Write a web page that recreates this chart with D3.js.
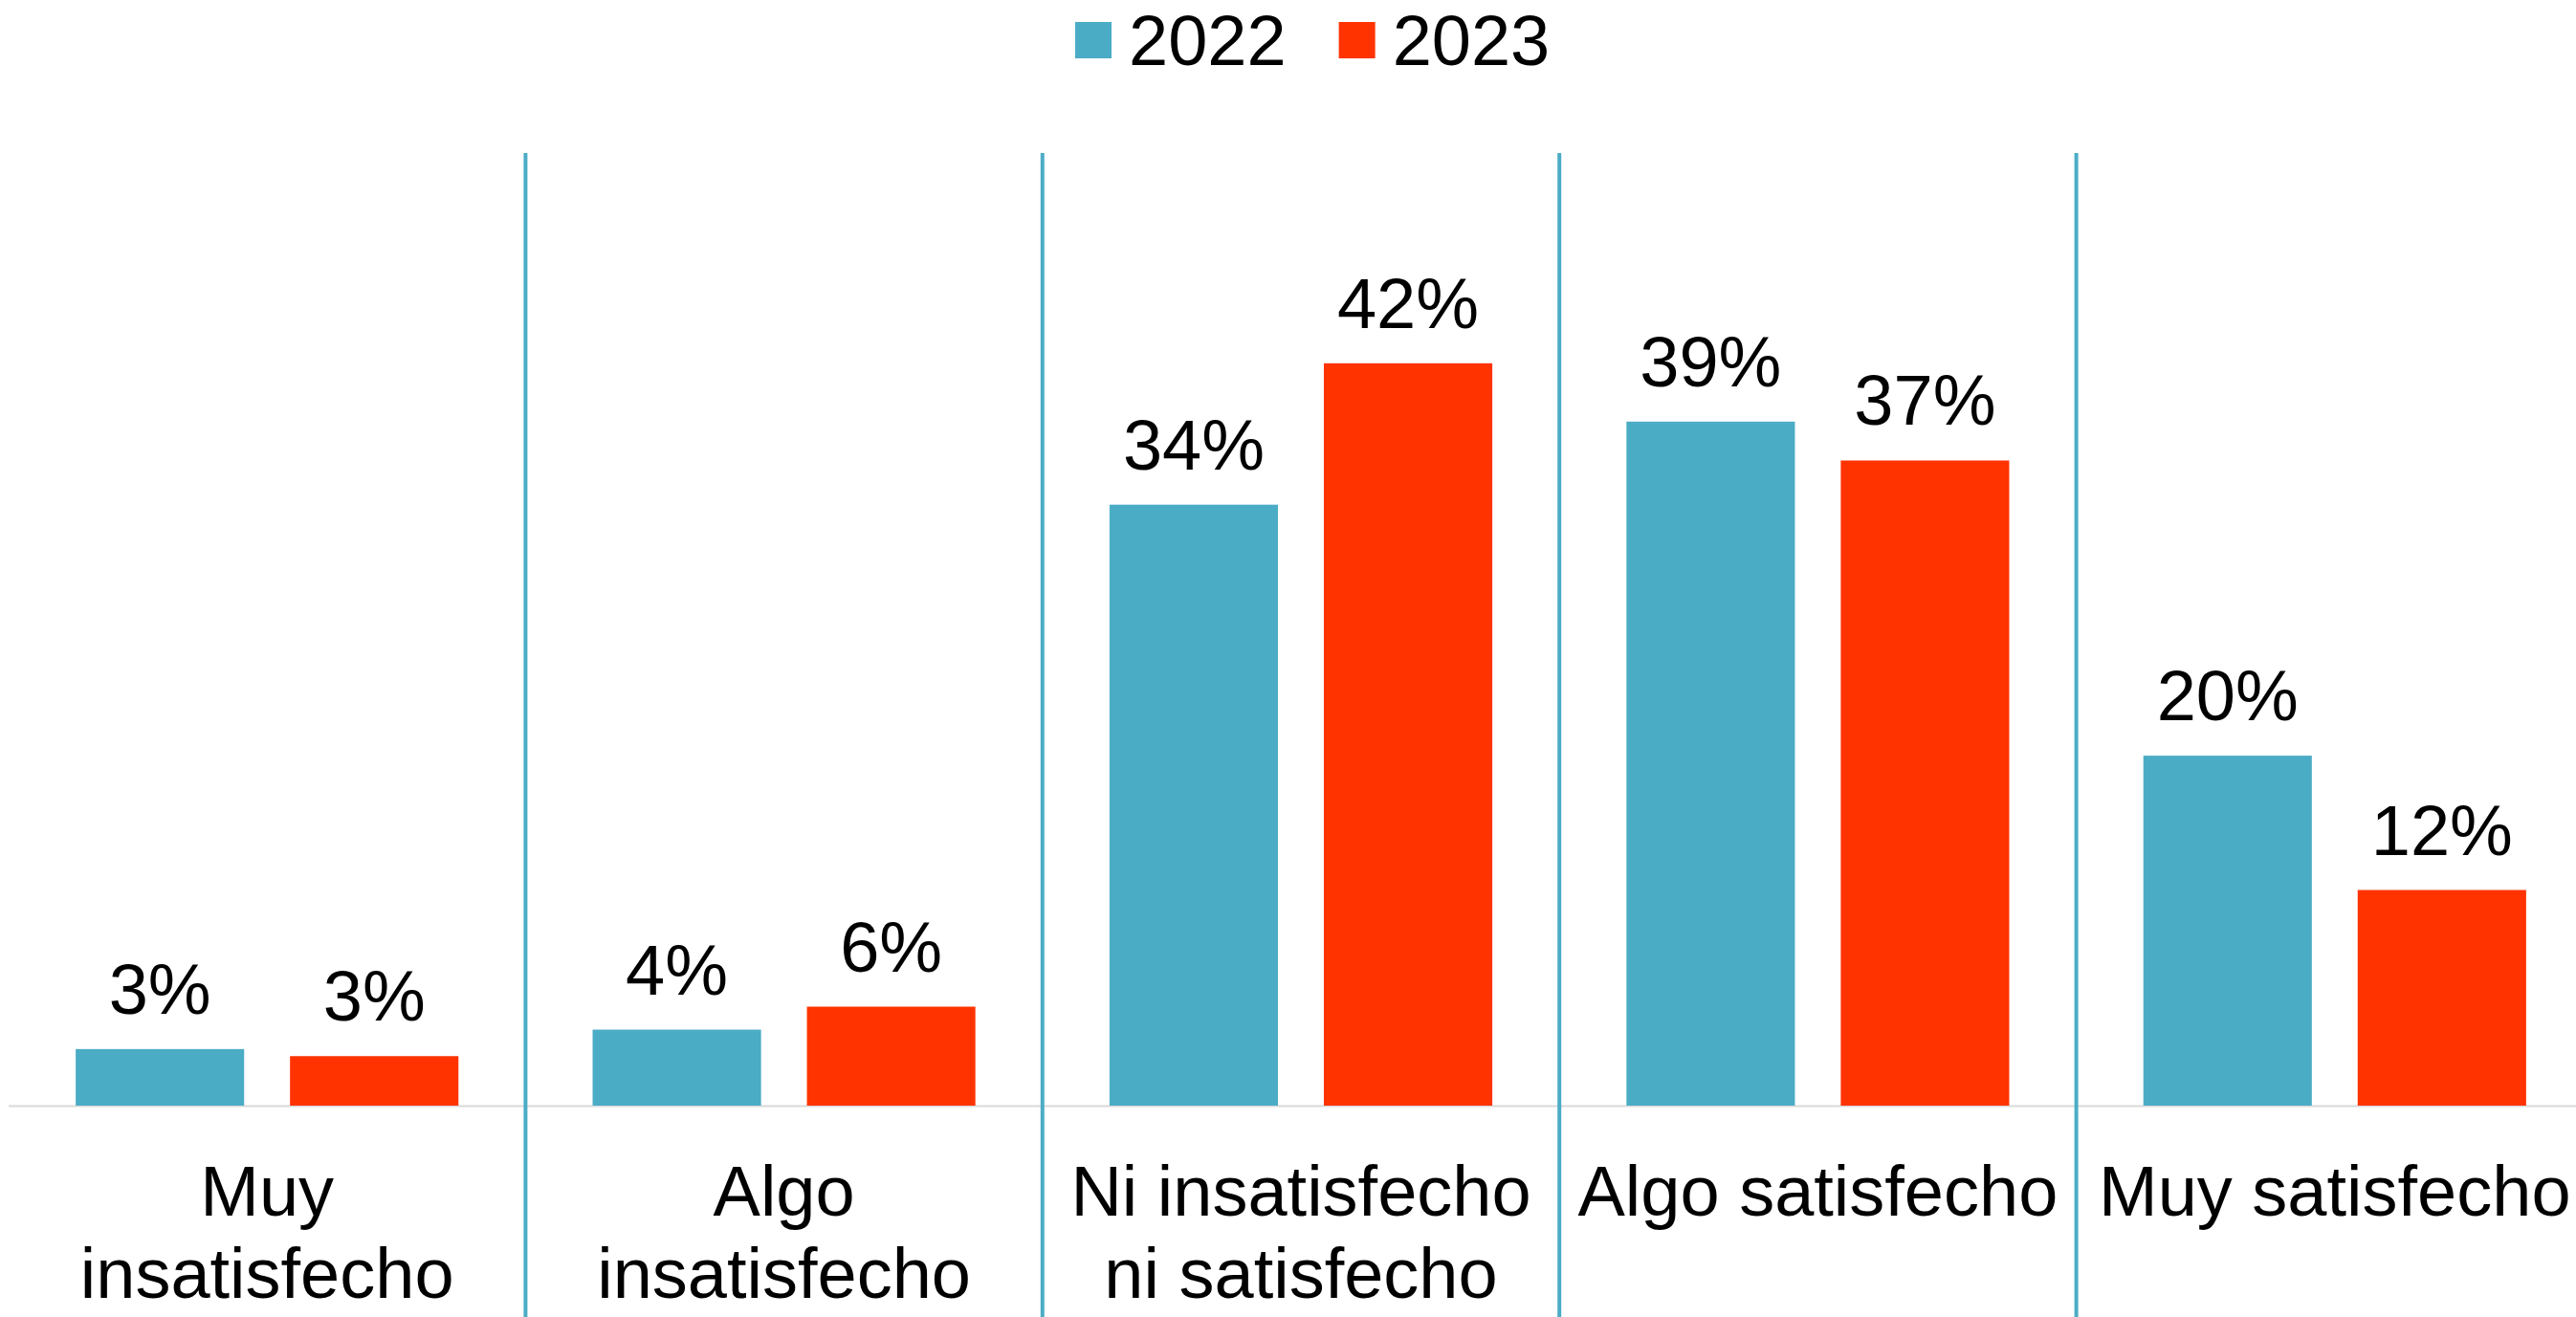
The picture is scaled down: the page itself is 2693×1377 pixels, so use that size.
<!DOCTYPE html>
<html>
<head>
<meta charset="utf-8">
<script src="https://cdn.jsdelivr.net/npm/d3@7"></script>
<style>
  html, body { margin: 0; padding: 0; background: #fff; }
  svg { display: block; font-family: "Liberation Sans", Arial, sans-serif; }
</style>
</head>
<body>
<div id="chart"></div>
<script>
// ── Data ─────────────────────────────────────────────────────────
const categories = [
  'Muy insatisfecho',
  'Algo insatisfecho',
  'Ni insatisfecho ni satisfecho',
  'Algo satisfecho',
  'Muy satisfecho',
];
const seriesNames = ['2022', '2023'];
const values2022 = [3.2, 4.3, 34.0, 38.7, 19.8];
const values2023 = [2.8, 5.6, 42.0, 36.5, 12.2];
const seriesColors = ['#4BACC6', '#FF3300'];

// ── Layout ───────────────────────────────────────────────────────
const W = 2693, H = 1377;
const baseY = 1156;
const fontSize = 74;

const svg = d3.select('#chart')
  .append('svg')
  .attr('width', W)
  .attr('height', H);

const x0 = d3.scaleBand()
  .domain(categories)
  .range([9, 2711])
  .paddingInner(0)
  .paddingOuter(0);

const x1 = d3.scaleBand()
  .domain(seriesNames)
  .range([0, x0.bandwidth()])
  .paddingInner(0.214)
  .paddingOuter(0.313);

const y = d3.scaleLinear()
  .domain([0, 50])
  .range([baseY, baseY - 50 * 18.48]);

const color = d3.scaleOrdinal().domain(seriesNames).range(seriesColors);

const rows = categories.map((c, i) => ({
  cat: c,
  vals: [
    { s: '2022', v: values2022[i] },
    { s: '2023', v: values2023[i] },
  ],
}));

// Baseline
svg.append('line')
  .attr('x1', 9)
  .attr('x2', W)
  .attr('y1', baseY + 0.5)
  .attr('y2', baseY + 0.5)
  .attr('stroke', '#d9d9d9')
  .attr('stroke-width', 2);

// Dividers between categories
svg.selectAll('.divider')
  .data(categories.slice(1))
  .enter()
  .append('line')
  .attr('class', 'divider')
  .attr('x1', d => x0(d))
  .attr('x2', d => x0(d))
  .attr('y1', 160)
  .attr('y2', H)
  .attr('stroke', '#4BACC6')
  .attr('stroke-width', 4);

// Bars
const groups = svg.selectAll('.cat')
  .data(rows)
  .enter()
  .append('g')
  .attr('class', 'cat')
  .attr('transform', d => `translate(${x0(d.cat)},0)`);

groups.selectAll('rect')
  .data(d => d.vals)
  .enter()
  .append('rect')
  .attr('x', d => x1(d.s))
  .attr('y', d => y(d.v))
  .attr('width', x1.bandwidth())
  .attr('height', d => y(0) - y(d.v))
  .attr('fill', d => color(d.s));

// Value labels
groups.selectAll('.val')
  .data(d => d.vals)
  .enter()
  .append('text')
  .attr('class', 'val')
  .attr('x', d => x1(d.s) + x1.bandwidth() / 2)
  .attr('y', d => y(d.v) - 37)
  .attr('text-anchor', 'middle')
  .attr('font-size', fontSize)
  .attr('fill', '#000')
  .text(d => Math.round(d.v) + '%');

// Category labels (wrapped)
const catLabels = svg.selectAll('.cat-label')
  .data(categories)
  .enter()
  .append('text')
  .attr('class', 'cat-label')
  .attr('x', d => x0(d) + x0.bandwidth() / 2)
  .attr('y', 1271)
  .attr('text-anchor', 'middle')
  .attr('font-size', fontSize)
  .attr('fill', '#000');

catLabels.each(function(d) {
  const text = d3.select(this);
  const words = d.split(' ');
  const maxW = 530;
  let line = [];
  let tspan = text.append('tspan').attr('x', text.attr('x')).attr('dy', 0);
  for (const w of words) {
    line.push(w);
    tspan.text(line.join(' '));
    if (tspan.node().getComputedTextLength() > maxW && line.length > 1) {
      line.pop();
      tspan.text(line.join(' '));
      line = [w];
      tspan = text.append('tspan')
        .attr('x', text.attr('x'))
        .attr('dy', 86)
        .text(w);
    }
  }
});

// ── Legend ───────────────────────────────────────────────────────
const legend = svg.append('g').attr('transform', 'translate(1124,0)');
let lx = 0;
seriesNames.forEach(s => {
  legend.append('rect')
    .attr('x', lx)
    .attr('y', 23)
    .attr('width', 38)
    .attr('height', 38)
    .attr('fill', color(s));
  const t = legend.append('text')
    .attr('x', lx + 56)
    .attr('y', 68)
    .attr('font-size', fontSize)
    .attr('fill', '#000')
    .text(s);
  lx += 56 + t.node().getComputedTextLength() + 55;
});
</script>
</body>
</html>
